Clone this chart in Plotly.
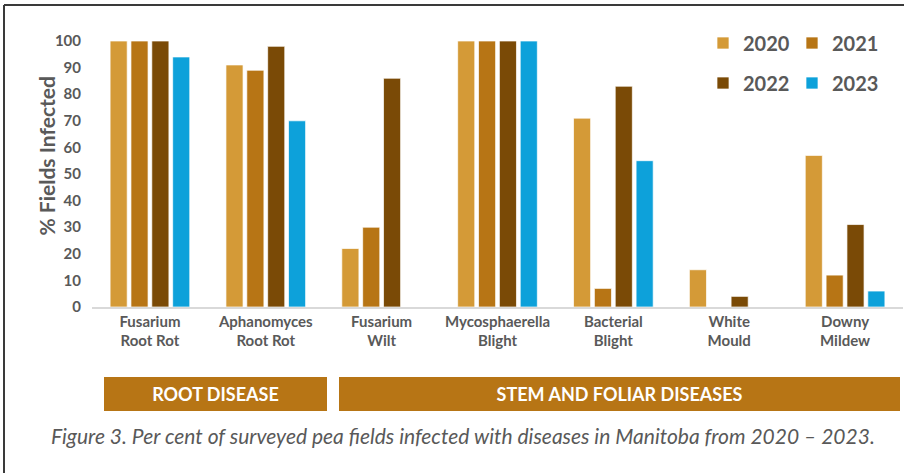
import plotly.graph_objects as go

# data
diseases = ["Fusarium<br>Root Rot", "Aphanomyces<br>Root Rot", "Fusarium<br>Wilt",
            "Mycosphaerella<br>Blight", "Bacterial<br>Blight", "White<br>Mould",
            "Downy<br>Mildew"]
years = ["2020", "2021", "2022", "2023"]
y2020 = [100, 91, 22, 100, 71, 14, 57]
y2021 = [100, 89, 30, 100, 7, None, 12]
y2022 = [100, 98, 86, 100, 83, 4, 31]
y2023 = [94, 70, None, 100, 55, None, 6]
groups = ["ROOT DISEASE", "STEM AND FOLIAR DISEASES"]
caption = "Figure 3. Per cent of surveyed pea fields infected with diseases in Manitoba from 2020 – 2023."

colors = ["#D49A37", "#B77515", "#7A4A06", "#0DA1DA"]
GREY = "#595959"
FONT = "Lato"

W, H = 904, 473
ML, MR, MT, MB = 92, 1, 41, 166
PW, PH = W - ML - MR, H - MT - MB


def px(x):
    return (x - ML) / PW


def py(y):
    return (H - MB - y) / PH


fig = go.Figure()
for yr, vals, c, lg in zip(years, [y2020, y2021, y2022, y2023], colors,
                           ["legend", "legend", "legend2", "legend2"]):
    fig.add_trace(go.Bar(
        x=diseases, y=vals, name=yr, legend=lg,
        marker=dict(color=c, line=dict(color="rgba(255,255,255,0.7)", width=1)),
    ))

legend_style = dict(
    orientation="h", xanchor="left", yanchor="middle",
    font=dict(family=FONT, size=20, color=GREY, weight="bold"),
    entrywidth=44, itemwidth=30, bgcolor="rgba(0,0,0,0)",
)

fig.update_layout(
    width=W, height=H,
    margin=dict(l=ML, r=MR, t=MT, b=MB),
    paper_bgcolor="white", plot_bgcolor="white",
    barmode="group", bargap=0.28, bargroupgap=0.18,
    showlegend=True,
    legend=dict(x=px(703), y=py(43), **legend_style),
    legend2=dict(x=px(703), y=py(83), **legend_style),
    font=dict(family=FONT, color=GREY),
)

fig.update_xaxes(
    showline=True, linecolor="#D9D9D9", linewidth=1.5,
    showgrid=False, ticks="",
    tickfont=dict(family=FONT, size=15, color=GREY, weight="bold"),
)
fig.update_yaxes(
    range=[0, 100], tickvals=list(range(0, 101, 10)),
    showgrid=False, showline=False, zeroline=False,
    tickfont=dict(family=FONT, size=15, color=GREY, weight="bold"),
    ticklabelstandoff=10,
)

# y axis title
fig.add_annotation(
    text="% Fields Infected", xref="paper", yref="paper",
    x=px(31), y=py(156), showarrow=False, textangle=-90,
    font=dict(family=FONT, size=21, color=GREY, weight="bold"),
)

# group banners
for label, x0, x1 in zip(groups, [104, 339], [327, 900]):
    fig.add_shape(
        type="rect", xref="paper", yref="paper",
        x0=px(x0), x1=px(x1), y0=py(411), y1=py(377),
        fillcolor="#B77515", line=dict(width=0),
        label=dict(text=label, font=dict(family=FONT, size=18, color="white", weight="bold")),
    )

# caption
fig.add_annotation(
    text=caption, xref="paper", yref="paper",
    x=px(463), y=py(450), showarrow=False,
    font=dict(family=FONT, size=21, color=GREY, style="italic"),
)

# frame lines (top and left)
fig.add_shape(type="line", xref="paper", yref="paper",
              x0=px(4), x1=px(904), y0=py(5), y1=py(5),
              line=dict(color="#3A3A3A", width=2))
fig.add_shape(type="line", xref="paper", yref="paper",
              x0=px(4), x1=px(4), y0=py(5), y1=py(473),
              line=dict(color="#3A3A3A", width=2))

fig.write_html("out.html", config={"displayModeBar": False},
               post_script="document.body.style.margin='0';")
